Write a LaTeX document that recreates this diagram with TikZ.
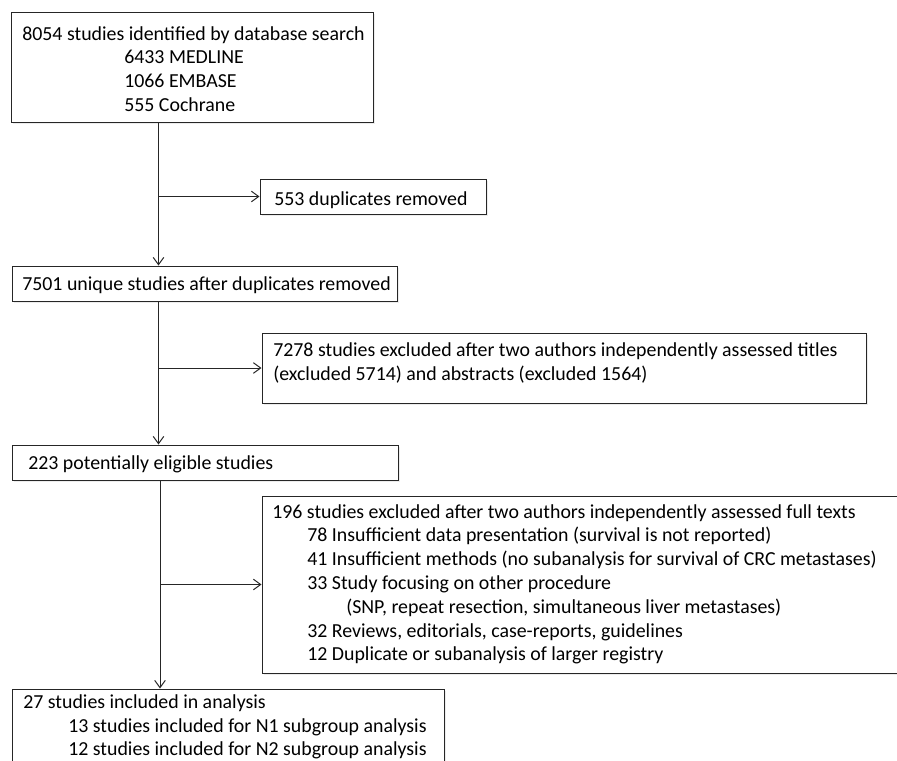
\documentclass[tikz,border=0pt]{standalone}
\usepackage{fontspec}
\setmainfont{Carlito}
\usetikzlibrary{arrows.meta,fit,shadows}
\begin{document}
\begin{tikzpicture}[x=0.75pt,y=-0.75pt,
  box/.style={draw=black!85, line width=0.75pt, fill=white, inner sep=0pt,
    drop shadow={shadow xshift=1.2pt,shadow yshift=-1.2pt,fill=black!15}},
  txt/.style={anchor=base west, inner sep=0pt, font=\fontsize{14.9}{17.8}\selectfont},
  arr/.style={draw=black!85, line width=0.75pt, -{Straight Barb[length=5.5pt,width=8pt]}}]
\useasboundingbox (0,0) rectangle (897,761);
% boxes
\node[box, fit={(11,12) (373,122)}] (b1) {};
\node[box, fit={(260,179) (486,214)}] (b2) {};
\node[box, fit={(12,266) (397,301)}] (b3) {};
\node[box, fit={(262,333) (866,403)}] (b4) {};
\node[box, fit={(12,445) (398,480)}] (b5) {};
\node[box, fit={(262,496) (905,673)}] (b6) {};
\node[box, fit={(12,689) (444,775)}] (b7) {};
% texts
\node[txt] (t1a) at (22,40) {8054 studies identified by database search};
\node[txt] (t1b) at (124,63.5) {6433 MEDLINE};
\node[txt] (t1c) at (124,87) {1066 EMBASE};
\node[txt] (t1d) at (124,111) {555 Cochrane};
\node[txt] (t2) at (274,205) {553 duplicates removed};
\node[txt] (t3) at (22,290) {7501 unique studies after duplicates removed};
\node[txt] (t4a) at (273,356) {7278 studies excluded after two authors independently assessed titles};
\node[txt] (t4b) at (273,380) {(excluded 5714) and abstracts (excluded 1564)};
\node[txt] (t5) at (28,469) {223 potentially eligible studies};
\node[txt] (t6a) at (272,518) {196 studies excluded after two authors independently assessed full texts};
\node[txt] (t6b) at (307,541.8) {78 Insufficient data presentation (survival is not reported)};
\node[txt] (t6c) at (307,565.6) {41 Insufficient methods (no subanalysis for survival of CRC metastases)};
\node[txt] (t6d) at (307,589.4) {33 Study focusing on other procedure};
\node[txt] (t6e) at (346,613.2) {(SNP, repeat resection, simultaneous liver metastases)};
\node[txt] (t6f) at (307,637) {32 Reviews, editorials, case-reports, guidelines};
\node[txt] (t6g) at (307,660.8) {12 Duplicate or subanalysis of larger registry};
\node[txt] (t7a) at (23,708) {27 studies included in analysis};
\node[txt] (t7b) at (68,732) {13 studies included for N1 subgroup analysis};
\node[txt] (t7c) at (68,755.5) {12 studies included for N2 subgroup analysis};
% connectors
\coordinate (s1) at (158.5,0);
\coordinate (s2) at (160,0);
\draw[arr] (b1.south -| s1) -- (b3.north -| s1);
\draw[arr] (b2.west -| s1) -- (b2.west);
\draw[arr] (b3.south -| s1) -- (b5.north -| s1);
\draw[arr] (b4.west -| s1) -- (b4.west);
\draw[arr] (b5.south -| s2) -- (b7.north -| s2);
\draw[arr] (b6.west -| s2) -- (b6.west);
\end{tikzpicture}
\end{document}
